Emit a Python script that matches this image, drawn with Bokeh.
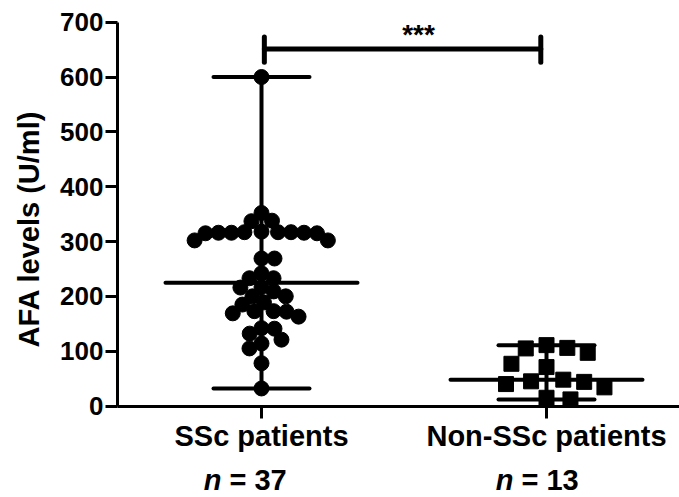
import math
import numpy as np
from bokeh.plotting import figure
from bokeh.models import FixedTicker, Range1d, LinearAxis
from bokeh.embed import file_html
from bokeh.resources import INLINE
from bokeh.core.properties import value

# ---------------- data ----------------
groups = ["SSc patients", "Non-SSc patients"]
group_n = ["37", "13"]
ssc_values = [600, 352, 338, 337, 318, 317, 317, 317, 316, 316, 316, 315, 315,
              302, 302, 269, 269, 242, 233, 233, 217, 216, 209, 200, 200, 189,
              185, 173, 173, 172, 169, 163, 142, 141, 132, 121, 114, 105, 78, 32]
nonssc_values = [111, 106, 105, 97, 77, 71, 48, 45, 44, 40, 34, 15, 12]
y_ticks = [0, 100, 200, 300, 400, 500, 600, 700]
y_title = "AFA levels (U/ml)"
significance = "***"

# ---------------- layout ----------------
W, H = 679, 497
FONT = "Liberation Sans"
PX_X = 285.0            # pixels per group unit
PX_Y = 383.8 / 700.0    # pixels per AFA unit
X_SSC_PX, Y_ZERO_PX, Y_TOP_PX, AXIS_X_PX = 261.0, 405.5, 21.7, 117.0

X0 = 1 - X_SSC_PX / PX_X
X1 = 1 + (W - X_SSC_PX) / PX_X
Y0 = -(H - Y_ZERO_PX) / PX_Y
Y1 = 700 + Y_TOP_PX / PX_Y
X_AXIS = 1 + (AXIS_X_PX - X_SSC_PX) / PX_X


def y_at(px):
    """data value whose screen row is px (from the top)"""
    return (Y_ZERO_PX - px) / PX_Y


def swarm(vals, d):
    """Simple beeswarm: horizontal pixel offsets that keep markers apart."""
    vals = np.asarray(vals, dtype=float)
    order = np.argsort(-vals, kind="stable")
    placed = []
    offs = np.zeros(len(vals))
    side = 1
    for i in order:
        y = vals[i] * PX_Y
        cands = [0.0]
        for (xj, yj) in placed:
            dy = abs(y - yj)
            if dy < d:
                dx = math.sqrt(d * d - dy * dy)
                cands += [xj + dx, xj - dx]

        def ok(x):
            return all((x - xj) ** 2 + (y - yj) ** 2 >= d * d - 1e-6 for xj, yj in placed)

        valid = [c for c in cands if ok(c)]
        best = min(valid, key=lambda c: (round(abs(c), 2), -side * c))
        if abs(best) > 1e-9:
            side = -side
        offs[i] = best
        placed.append((best, y))
    return offs


p = figure(width=W, height=H, output_backend="svg", toolbar_location=None,
           x_range=Range1d(X0, X1), y_range=Range1d(Y0, Y1),
           x_axis_location=None, y_axis_location=None,
           min_border_left=0, min_border_right=0,
           min_border_top=0, min_border_bottom=0)
p.outline_line_color = None
p.xgrid.visible = False
p.ygrid.visible = False
p.background_fill_color = "white"
p.border_fill_color = "white"

xaxis = LinearAxis(fixed_location=0, bounds=(X_AXIS, X1),
                   ticker=FixedTicker(ticks=[1, 2]),
                   major_label_overrides={1: groups[0], 2: groups[1]})
yaxis = LinearAxis(fixed_location=X_AXIS, bounds=(0, 700),
                   ticker=FixedTicker(ticks=y_ticks))
for ax in (xaxis, yaxis):
    ax.axis_line_width = 3
    ax.axis_line_color = "black"
    ax.major_tick_line_width = 3
    ax.major_tick_line_color = "black"
    ax.major_tick_out = 12
    ax.major_tick_in = 0
    ax.minor_tick_out = 0
    ax.minor_tick_in = 0
    ax.major_label_text_font = FONT
    ax.major_label_text_font_style = "bold"
    ax.major_label_text_color = "black"
xaxis.major_label_text_font_size = "29px"
xaxis.major_label_standoff = 2
yaxis.major_label_text_font_size = "26px"
yaxis.major_label_standoff = 2
p.add_layout(xaxis, "below")
p.add_layout(yaxis, "left")

# summary lines (median with range)
med_half, cap_half = 96 / PX_X, 48 / PX_X
for gx, vals in ((1, ssc_values), (2, nonssc_values)):
    med = float(np.median(vals))
    lo, hi = float(min(vals)), float(max(vals))
    p.segment(x0=[gx - med_half, gx - cap_half, gx - cap_half, gx],
              y0=[med, lo, hi, lo],
              x1=[gx + med_half, gx + cap_half, gx + cap_half, gx],
              y1=[med, lo, hi, hi],
              line_color="black", line_width=4, line_cap="round")

# points
ssc_x = 1 + swarm(ssc_values, 13) / PX_X
non_x = 2 + swarm(nonssc_values, 21) / PX_X
p.scatter(ssc_x, ssc_values, marker="circle", size=15, color="black")
p.scatter(non_x, nonssc_values, marker="square", size=15, color="black")

# significance bracket
p.segment(x0=[1.01, 1.01, 1.98], y0=[651, 627, 627],
          x1=[1.98, 1.01, 1.98], y1=[651, 673, 673],
          line_color="black", line_width=5, line_cap="round")
p.text(x=[1.551], y=[y_at(34)], text=[significance], text_font=value(FONT),
       text_font_style="bold", text_font_size="28px", text_align="center",
       text_baseline="alphabetic", text_color="black")

# y axis title
p.text(x=[1 + (28 - X_SSC_PX) / PX_X], y=[322.8], text=[y_title], angle=math.pi / 2,
       text_font=value(FONT), text_font_style="bold", text_font_size="29px",
       text_align="center", text_baseline="middle", text_color="black")

# n labels
y_n = y_at(479)
for gx, n, off in ((1, group_n[0], -40), (2, group_n[1], -33)):
    p.text(x=[gx], y=[y_n], x_offset=off, text=["n"], text_font=value(FONT),
           text_font_style="bold italic", text_font_size="29px",
           text_align="right", text_baseline="alphabetic", text_color="black")
    p.text(x=[gx], y=[y_n], x_offset=off + 8, text=["= " + n], text_font=value(FONT),
           text_font_style="bold", text_font_size="29px",
           text_align="left", text_baseline="alphabetic", text_color="black")

open("out.html", "w").write(file_html(p, INLINE))
